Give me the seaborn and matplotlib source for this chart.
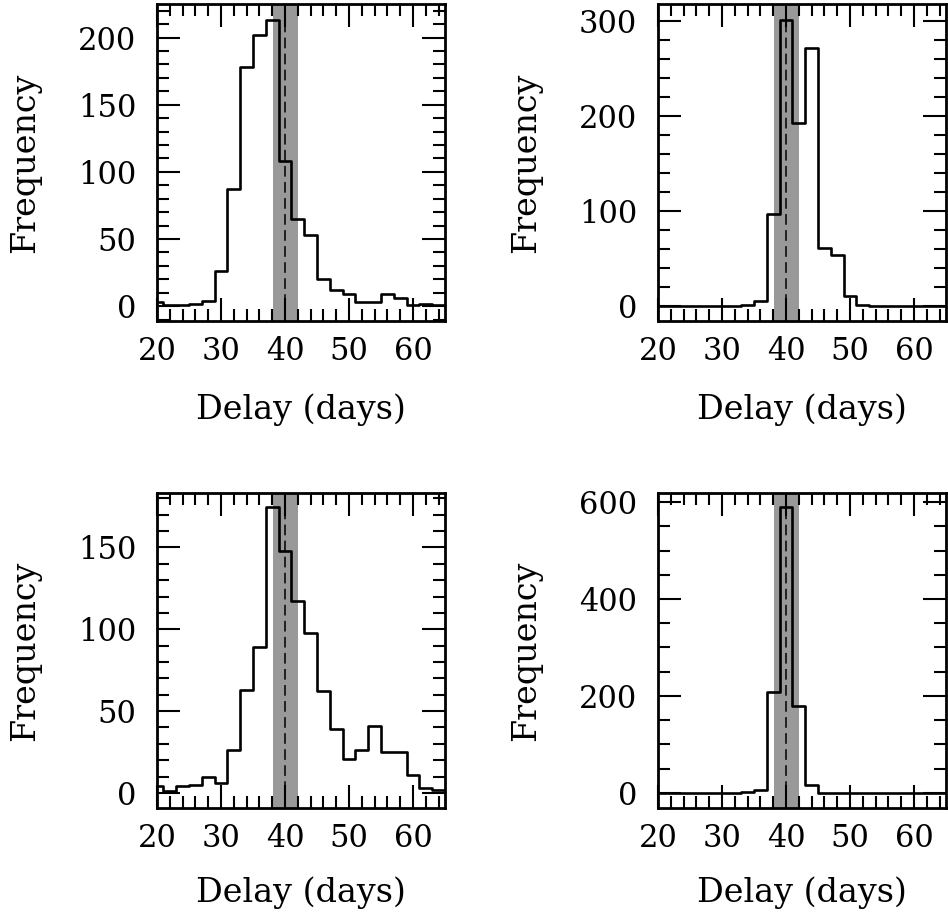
import numpy as np
import pandas as pd
import matplotlib
matplotlib.use("Agg")
import matplotlib.pyplot as plt
import seaborn as sns
from matplotlib.ticker import MultipleLocator

# ---- data ----
bin_edges = list(range(19, 67, 2))      # 19, 21, ..., 65
bin_centers = list(range(20, 66, 2))    # 20, 22, ..., 64

counts_a = [3, 1, 1, 2, 4, 26, 87, 178, 202, 213, 108, 65, 53, 20, 12, 9, 3, 3, 9, 6, 1, 2, 1]
counts_b = [0, 0, 0, 0, 0, 0, 0, 1, 5, 97, 301, 193, 272, 61, 54, 10, 1, 0, 0, 0, 0, 0, 0]
counts_c = [4, 1, 4, 5, 10, 6, 26, 63, 89, 175, 148, 117, 98, 62, 39, 21, 26, 41, 25, 25, 11, 3, 2]
counts_d = [0, 0, 0, 0, 0, 0, 0, 1, 7, 209, 590, 179, 16, 0, 0, 0, 0, 0, 0, 0, 0, 0, 0]

true_delay = 40.0
band_low, band_high = 38.2, 42.1

x_label = "Delay (days)"
y_label = "Frequency"
x_ticks = [20, 30, 40, 50, 60]

panels = [
    dict(counts=counts_a, ylim=(-11, 225), major=50, minor=10),
    dict(counts=counts_b, ylim=(-16, 318), major=100, minor=20),
    dict(counts=counts_c, ylim=(-9.2, 183.3), major=50, minor=10),
    dict(counts=counts_d, ylim=(-31, 618.6), major=200, minor=50),
]

# ---- style ----
sns.set_style("ticks")
plt.rcParams["font.family"] = ["DejaVu Serif", "DejaVu Sans"]
for k in ["text.color", "axes.labelcolor", "xtick.color", "ytick.color", "axes.edgecolor"]:
    plt.rcParams[k] = "black"

W, H = 948, 919
fig = plt.figure(figsize=(W / 100, H / 100), dpi=100)

# axes rectangles in pixel coords: left, top, right, bottom
rects = [
    (157, 4, 445, 321),
    (658, 4, 946, 321),
    (157, 493, 445, 808),
    (658, 493, 946, 808),
]

for p, (l, t, r, b) in zip(panels, rects):
    ax = fig.add_axes([l / W, 1 - b / H, (r - l) / W, (b - t) / H])
    ax.axvspan(band_low, band_high, color="#999999", lw=0, zorder=0.5)
    sns.histplot(x=bin_centers, weights=p["counts"], bins=bin_edges,
                 element="step", fill=False, color="black", linewidth=1.9,
                 ax=ax, zorder=2)
    ax.axvline(true_delay, color="black", lw=1.1, ls=(0, (7, 3.5)), zorder=3)
    ax.set_xlim(20, 65)
    ax.set_ylim(*p["ylim"])
    ax.set_xticks(x_ticks)
    ax.xaxis.set_minor_locator(MultipleLocator(2))
    ax.yaxis.set_major_locator(MultipleLocator(p["major"]))
    ax.yaxis.set_minor_locator(MultipleLocator(p["minor"]))
    ax.set_ylim(*p["ylim"])
    ax.tick_params(which="both", direction="in", top=True, right=True,
                   width=1.5, color="black", labelsize=22, labelcolor="black")
    ax.tick_params(which="major", length=16.5)
    ax.tick_params(which="minor", length=8.5)
    ax.tick_params(axis="y", which="major", pad=15)
    ax.tick_params(axis="x", which="major", pad=11)
    for s in ax.spines.values():
        s.set_linewidth(2.0)
        s.set_color("black")
        s.set_zorder(5)
    ax.set_xlabel(x_label, fontsize=24, color="black")
    ax.set_ylabel(y_label, fontsize=24, color="black")
    ax.xaxis.label.set_va("center")
    ax.yaxis.label.set_va("center")
    ax.yaxis.label.set_ha("center")
    ax.xaxis.set_label_coords(0.5, (b - (410 if b < 500 else 893)) / (b - t))
    ax.yaxis.set_label_coords(-0.457, 0.5)

fig.savefig("out.png", dpi=100)
